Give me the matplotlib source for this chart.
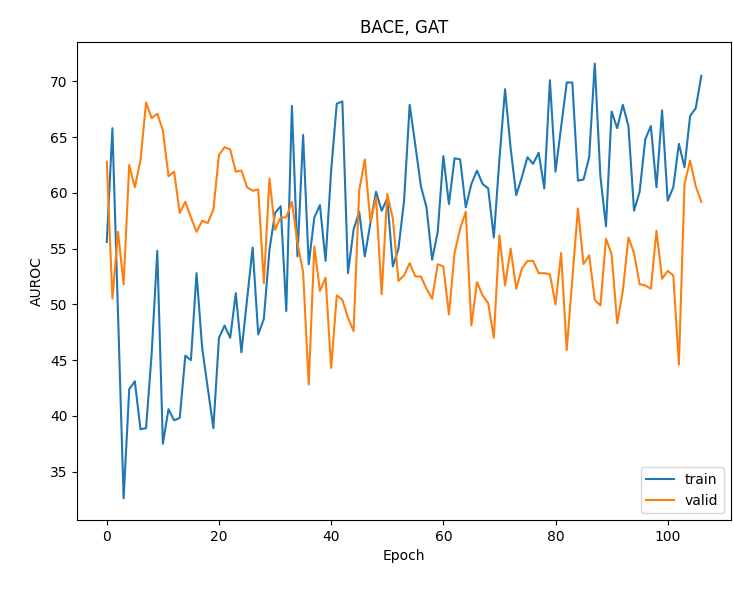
import matplotlib
matplotlib.use("Agg")
import matplotlib.pyplot as plt
import numpy as np

# AUROC per epoch
train = [55.6, 65.8, 49.2, 32.6, 42.4, 43.1, 38.8, 38.9, 45.6, 54.8,
         37.5, 40.6, 39.6, 39.8, 45.4, 45.0, 52.8, 46.1, 42.5, 38.9,
         47.0, 48.1, 47.0, 51.0, 45.7, 50.4, 55.1, 47.3, 48.7, 54.9,
         58.2, 58.8, 49.4, 67.8, 54.3, 65.2, 53.6, 57.8, 58.9, 53.9,
         62.0, 68.0, 68.2, 52.8, 56.7, 58.3, 54.3, 57.3, 60.1, 58.4,
         59.5, 53.4, 55.0, 59.3, 67.9, 64.3, 60.6, 58.7, 54.0, 56.5,
         63.3, 59.0, 63.1, 63.0, 58.7, 60.8, 62.0, 60.8, 60.4, 56.0,
         63.0, 69.3, 64.0, 59.8, 61.4, 63.2, 62.6, 63.6, 60.4, 70.1,
         61.9, 65.9, 69.9, 69.9, 61.1, 61.2, 63.2, 71.6, 61.5, 57.0,
         67.3, 65.8, 67.9, 66.0, 58.4, 60.1, 64.8, 66.0, 60.5, 67.4,
         59.3, 60.5, 64.4, 62.3, 66.9, 67.6, 70.5]
valid = [62.8, 50.5, 56.5, 51.8, 62.5, 60.5, 62.9, 68.1, 66.7, 67.1,
         65.6, 61.5, 61.9, 58.2, 59.2, 57.8, 56.5, 57.5, 57.3, 58.5,
         63.4, 64.1, 63.9, 61.9, 62.0, 60.5, 60.2, 60.3, 51.9, 61.3,
         56.7, 57.8, 57.8, 59.2, 55.5, 52.9, 42.8, 55.2, 51.2, 52.4,
         44.3, 50.8, 50.4, 48.8, 47.6, 60.2, 63.0, 57.4, 59.6, 50.9,
         59.9, 57.7, 52.1, 52.6, 53.7, 52.5, 52.5, 51.4, 50.5, 53.6,
         53.4, 49.1, 54.6, 56.8, 58.3, 48.1, 52.0, 50.8, 50.1, 47.0,
         56.2, 51.7, 55.0, 51.4, 53.2, 53.9, 53.9, 52.8, 52.8, 52.7,
         50.0, 54.6, 45.9, 52.3, 58.6, 53.6, 54.4, 50.4, 49.9, 55.9,
         54.5, 48.3, 51.2, 56.0, 54.6, 51.8, 51.7, 51.4, 56.6, 52.3,
         53.0, 52.6, 44.6, 60.8, 62.9, 60.6, 59.2]

epochs = np.arange(len(train))

fig = plt.figure(figsize=(7.34, 5.89), dpi=100)
ax = fig.add_subplot(111)
fig.subplots_adjust(left=0.105, right=0.996, top=0.929, bottom=0.117)

ax.plot(epochs, train, label='train')
ax.plot(epochs, valid, label='valid')

ax.set_title('BACE, GAT')
ax.set_xlabel('Epoch')
ax.set_ylabel('AUROC')
ax.legend(loc='lower right')

fig.savefig('out.png', dpi=100)
